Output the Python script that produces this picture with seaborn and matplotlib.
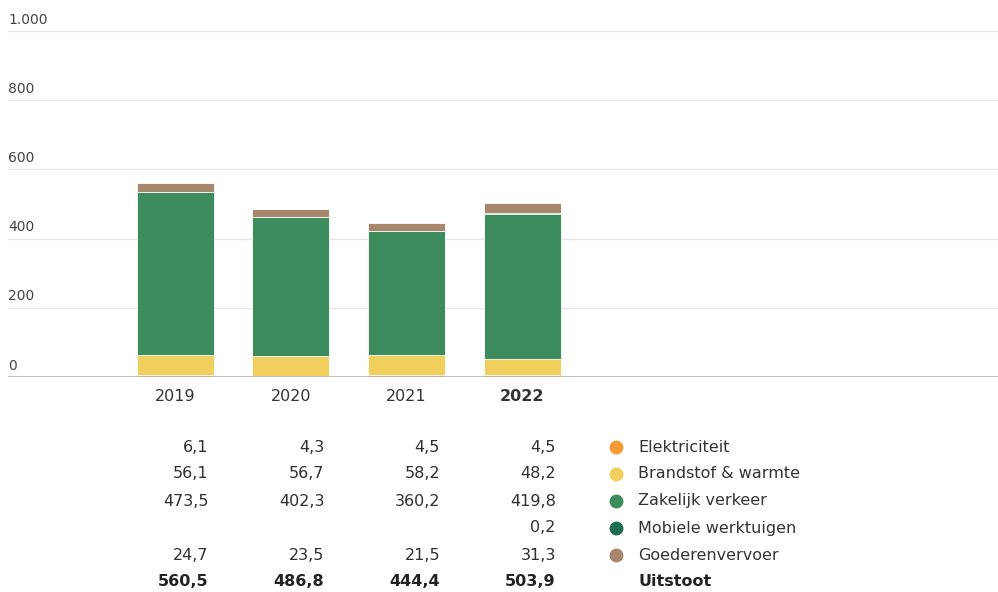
import matplotlib
matplotlib.use("Agg")
import matplotlib.pyplot as plt
import matplotlib.transforms as mtransforms
import numpy as np
import pandas as pd
import seaborn as sns

years = ["2019", "2020", "2021", "2022"]
elektriciteit = [6.1, 4.3, 4.5, 4.5]
brandstof = [56.1, 56.7, 58.2, 48.2]
zakelijk = [473.5, 402.3, 360.2, 419.8]
mobiele = [None, None, None, 0.2]
goederen = [24.7, 23.5, 21.5, 31.3]
uitstoot = [560.5, 486.8, 444.4, 503.9]

series_names = ["Elektriciteit", "Brandstof & warmte", "Zakelijk verkeer",
                "Mobiele werktuigen", "Goederenvervoer"]
series_values = [elektriciteit, brandstof, zakelijk, mobiele, goederen]
colors = ["#F39B32", "#F0CF5C", "#3D8C5E", "#1B6B55", "#A8866E"]
yticks = [0, 200, 400, 600, 800, 1000]

def fmt(v):
    if v is None:
        return ""
    return f"{v:.1f}".replace(".", ",")

def fmt_tick(v):
    return f"{v:,}".replace(",", ".")

sns.set_theme(style="white")
plt.rcParams["font.family"] = ["DejaVu Sans"]

W, H = 998, 592
fig = plt.figure(figsize=(W / 100, H / 100), dpi=100)
ax = fig.add_axes([8 / W, 1 - 377 / H, 990 / W, 346 / H])

vals = np.array([[0 if v is None else v for v in s] for s in series_values])
cum = np.cumsum(vals, axis=0)

for i in range(len(series_names) - 1, -1, -1):
    df = pd.DataFrame({"year": years, "value": cum[i]})
    sns.barplot(data=df, x="year", y="value", color=colors[i], width=0.665,
                edgecolor="white", linewidth=0.6, ax=ax, order=years,
                saturation=1, zorder=3)

ax.set_xlim(-1.443, 7.11)
ax.set_ylim(0, 1000)
ax.set_xlabel("")
ax.set_ylabel("")

ax.set_yticks(yticks)
ax.set_yticklabels([])
ax.tick_params(axis="y", length=0)
for t in yticks:
    if t == 0:
        ax.axhline(t, color="#b5b5b5", lw=1.2, zorder=4)
    else:
        ax.axhline(t, color="#e6e6e6", lw=1, zorder=1)
    ax.text(0.0, t + 13, fmt_tick(t), transform=ax.get_yaxis_transform(),
            ha="left", va="bottom", fontsize=10, color="#444444")

for s in ax.spines.values():
    s.set_visible(False)

ax.set_xticks(range(len(years)))
ax.set_xticklabels(years)
ax.tick_params(axis="x", length=0, pad=8.5, labelsize=11.5, labelcolor="#333333")
for lbl in ax.get_xticklabels():
    if lbl.get_text() == years[-1]:
        lbl.set_fontweight("bold")

trans = mtransforms.blended_transform_factory(ax.transData, fig.transFigure)
row_y = [447, 474, 501, 528, 555, 582]
num_dx = 0.29
for r, s in enumerate(series_values):
    yf = 1 - row_y[r] / H
    for j, v in enumerate(s):
        ax.text(j + num_dx, yf, fmt(v), transform=trans, ha="right",
                va="center", fontsize=11.5, color="#2f2f2f")
    ax.plot([3.81], [yf], "o", color=colors[r], markersize=9,
            transform=trans, clip_on=False)
    ax.text(4.0, yf, series_names[r], transform=trans, ha="left",
            va="center", fontsize=11.5, color="#333333")

yf = 1 - row_y[5] / H
for j, v in enumerate(uitstoot):
    ax.text(j + num_dx, yf, fmt(v), transform=trans, ha="right",
            va="center", fontsize=11.5, color="#222222", fontweight="bold")
ax.text(4.0, yf, "Uitstoot", transform=trans, ha="left", va="center",
        fontsize=11.5, color="#222222", fontweight="bold")

fig.savefig("out.png", dpi=100)
